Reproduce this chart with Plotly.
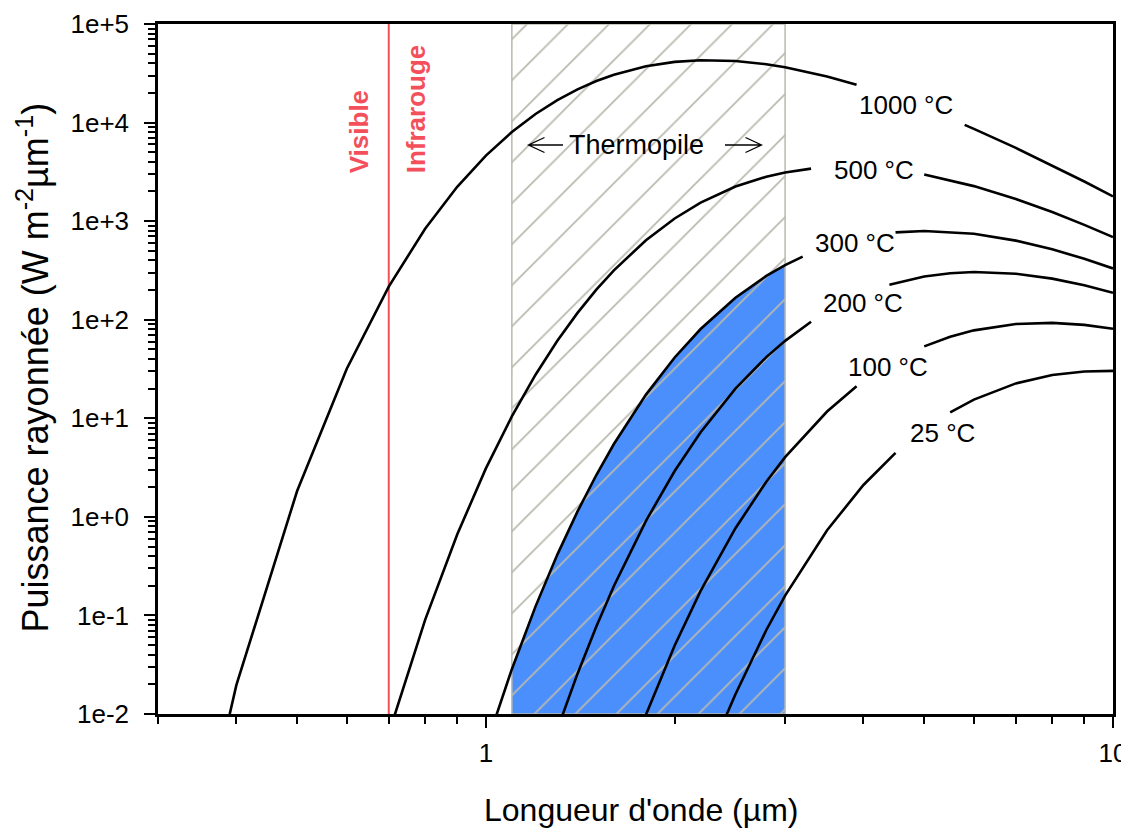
import math
import plotly.graph_objects as go

# ---------------- data ----------------
# Spectral radiant exitance (W m^-2 um^-1) vs wavelength (um); None = break under label
WL_1000 = [0.3, 0.4, 0.5, 0.6, 0.7, 0.8, 0.9, 1.0, 1.1, 1.2, 1.3, 1.4, 1.5, 1.6, 1.8, 2.0, 2.2, 2.4, 2.5, 2.8, 3.0, 3.5, 3.9,
           None, 5.8, 6.0, 7.0, 8.0, 9.0, 10.0]
E_1000 = [6.72e-6, 0.0196, 1.83, 31.8, 217, 837, 2231, 4625, 8024, 12225, 16907, 21722, 26356, 30577, 37230, 41256, 42919,
          42751, 42164, 39101, 36444, 29376, 24211, None, 9474, 8629, 5531, 3676, 2524, 1785]

WL_500 = [0.7, 0.8, 0.9, 1.0, 1.1, 1.2, 1.3, 1.4, 1.5, 1.6, 1.8, 2.0, 2.2, 2.5, 2.8, 3.0, 3.3,
          None, 5.0, 6.0, 7.0, 8.0, 9.0, 10.0]
E_500 = [6.33e-3, 0.0901, 0.663, 3.10, 10.44, 27.67, 61.13, 117.3, 201.6, 317.0, 640.6, 1063.8, 1539, 2243, 2827, 3121, 3411,
         None, 2968, 2266, 1677, 1236, 917.4, 689.1]

WL_300 = [1.0, 1.1, 1.2, 1.3, 1.4, 1.5, 1.6, 1.8, 2.0, 2.2, 2.5, 2.8, 3.0, 3.2,
          None, 4.5, 5.0, 6.0, 7.0, 8.0, 9.0, 10.0]
E_300 = [4.69e-3, 0.0285, 0.1236, 0.4141, 1.136, 2.658, 5.479, 17.38, 41.39, 80.44, 166.9, 277.8, 357.7, 437.1,
         None, 769.1, 795.6, 744.7, 634.4, 517.8, 415.0, 330.9]

WL_200 = [1.3, 1.4, 1.5, 1.6, 1.8, 2.0, 2.2, 2.5, 2.8, 3.0, 3.3,
          None, 4.4, 5.0, 5.5, 6.0, 7.0, 8.0, 9.0, 10.0]
E_200 = [6.99e-3, 0.02566, 0.07732, 0.1988, 0.9116, 2.915, 7.211, 19.99, 41.75, 61.00, 95.20,
         None, 226.4, 274.1, 296.4, 304.8, 292.9, 261.0, 223.6, 187.8]

WL_100 = [1.6, 1.8, 2.0, 2.2, 2.5, 2.8, 3.0, 3.5, 3.9,
          None, 5.0, 5.5, 6.0, 7.0, 8.0, 9.0, 10.0]
E_100 = [1.22e-3, 9.855e-3, 0.04956, 0.1776, 0.7677, 2.274, 4.033, 11.70, 21.09,
         None, 53.62, 67.15, 78.01, 90.60, 92.89, 88.57, 80.87]

WL_25 = [2.2, 2.4, 2.5, 2.8, 3.0, 3.5, 4.0, 4.5,
         None, 5.5, 6.0, 7.0, 8.0, 9.0, 10.0]
E_25 = [2.16e-3, 8.70e-3, 0.01585, 0.07116, 0.1590, 0.7323, 2.105, 4.463,
        None, 11.50, 15.47, 22.59, 27.47, 29.87, 30.25]

CURVE_LABELS = ["1000 °C", "500 °C", "300 °C", "200 °C", "100 °C", "25 °C"]

THERMOPILE_BAND_UM = [1.1, 3.0]
VISIBLE_IR_LIMIT_UM = 0.7

X_RANGE_UM = [0.3, 10]
Y_RANGE = [1e-2, 1e5]
X_TICK_VALUES = [1, 10]
X_TICK_TEXT = ["1", "10"]
Y_TICK_VALUES = [1e-2, 1e-1, 1e0, 1e1, 1e2, 1e3, 1e4, 1e5]
Y_TICK_TEXT = ["1e-2", "1e-1", "1e+0", "1e+1", "1e+2", "1e+3", "1e+4", "1e+5"]

# ---------------- layout helpers ----------------
# page body has an 8px default margin: the figure is drawn 8px right and down
OFF = 8
W_PX, H_PX = 1129 - OFF, 828 - OFF
PL, PT, PR, PB = 158, 24, 1113, 714          # plot area in window pixels
ML, MT = PL - OFF, PT - OFF
MR = W_PX - (PR - OFF)
MB = H_PX - (PB - OFF)
PW, PH = PR - PL, PB - PT
FONT = "Liberation Sans, Arial, Helvetica, sans-serif"
RED = "#F4505C"
BLUE = "#4B8FFC"
HATCH = "#B9B9AE"


def px_x(x):
    return (x - PL) / PW


def px_y(y):
    return (PB - y) / PH


curves = [(WL_1000, E_1000), (WL_500, E_500), (WL_300, E_300),
          (WL_200, E_200), (WL_100, E_100), (WL_25, E_25)]

fig = go.Figure()

# blue area under the 300 °C curve inside the thermopile band
b0, b1 = THERMOPILE_BAND_UM
fx = [x for x, y in zip(WL_300, E_300) if x is not None and b0 <= x <= b1]
fy = [y for x, y in zip(WL_300, E_300) if x is not None and b0 <= x <= b1]
fig.add_trace(go.Scatter(
    x=fx + [fx[-1], fx[0]], y=fy + [Y_RANGE[0], Y_RANGE[0]],
    fill="toself", fillcolor=BLUE, mode="lines", line=dict(width=0, color=BLUE),
    hoverinfo="skip", showlegend=False))

# hatched thermopile band
fig.add_trace(go.Scatter(
    x=[b0, b1, b1, b0, b0], y=[Y_RANGE[0], Y_RANGE[0], Y_RANGE[1], Y_RANGE[1], Y_RANGE[0]],
    fill="toself", fillcolor="rgba(0,0,0,0)",
    fillpattern=dict(shape="/", fgcolor=HATCH, size=29, solidity=0.06,
                     fillmode="overlay", fgopacity=1),
    mode="lines", line=dict(color=HATCH, width=1.5),
    hoverinfo="skip", showlegend=False))

# visible / infrared limit
fig.add_trace(go.Scatter(
    x=[VISIBLE_IR_LIMIT_UM, VISIBLE_IR_LIMIT_UM], y=Y_RANGE, mode="lines",
    line=dict(color=RED, width=2), hoverinfo="skip", showlegend=False))

# blackbody curves
for (wx, wy), name in zip(curves, CURVE_LABELS):
    fig.add_trace(go.Scatter(x=wx, y=wy, mode="lines", name=name, connectgaps=False,
                             line=dict(color="black", width=2.6), showlegend=False))

# ---------------- annotations ----------------
LABEL_PX = {"1000 °C": (906, 105), "500 °C": (874, 170), "300 °C": (855, 243),
            "200 °C": (863, 303), "100 °C": (888, 367), "25 °C": (942, 433)}
ann = []
for name in CURVE_LABELS:
    lx, ly = LABEL_PX[name]
    ann.append(dict(x=px_x(lx), y=px_y(ly), xref="paper", yref="paper", text=name,
                    showarrow=False, xanchor="center", yanchor="middle",
                    font=dict(family=FONT, size=26, color="black")))

ann.append(dict(x=px_x(636.5), y=px_y(145), xref="paper", yref="paper", text="Thermopile",
                showarrow=False, xanchor="center", yanchor="middle",
                font=dict(family=FONT, size=27, color="black")))

vis_x = math.log10(VISIBLE_IR_LIMIT_UM)
ann.append(dict(x=vis_x, xref="x", y=px_y(175), yref="paper", text="<b>Visible</b>",
                textangle=-90, showarrow=False, xanchor="center", yanchor="bottom", xshift=-30,
                font=dict(family=FONT, size=26, color=RED)))
ann.append(dict(x=vis_x, xref="x", y=px_y(175), yref="paper", text="<b>Infrarouge</b>",
                textangle=-90, showarrow=False, xanchor="center", yanchor="bottom", xshift=27,
                font=dict(family=FONT, size=26, color=RED)))

ann.append(dict(x=px_x(641), y=px_y(810), xref="paper", yref="paper",
                text="Longueur d'onde (µm)", showarrow=False, xanchor="center", yanchor="middle",
                font=dict(family=FONT, size=32, color="black")))
ann.append(dict(x=px_x(32), y=px_y(367.5), xref="paper", yref="paper",
                text="Puissance rayonnée (W m<sup>-2</sup>µm<sup>-1</sup>)", textangle=-90,
                showarrow=False, xanchor="center", yanchor="middle",
                font=dict(family=FONT, size=36, color="black")))


def arrow_path(tail, tip, back, half):
    (tx, ty), (hx, hy) = tail, tip
    d = 1 if hx > tx else -1
    s = "M%.5f,%.5f L%.5f,%.5f " % (px_x(tx), px_y(ty), px_x(hx), px_y(hy))
    s += "M%.5f,%.5f L%.5f,%.5f L%.5f,%.5f" % (
        px_x(hx - d * back), px_y(hy - half), px_x(hx), px_y(hy), px_x(hx - d * back), px_y(hy + half))
    return s


shapes = [
    dict(type="path", xref="paper", yref="paper", path=arrow_path((563, 145), (528.5, 145), 16, 7.5),
         line=dict(color="black", width=1.3)),
    dict(type="path", xref="paper", yref="paper", path=arrow_path((725, 145), (761.5, 145), 16, 7.5),
         line=dict(color="black", width=1.3)),
]

axis_common = dict(
    type="log", showgrid=False, zeroline=False, showline=True, linewidth=2.5, linecolor="black",
    mirror=True, ticks="outside", ticklen=11, tickwidth=2, tickcolor="black", automargin=False,
    tickfont=dict(family=FONT, size=26, color="black"),
    minor=dict(ticks="outside", ticklen=7, tickwidth=2, tickcolor="black", dtick="D1", showgrid=False),
)

fig.update_layout(
    width=W_PX, height=H_PX,
    margin=dict(l=ML, r=MR, t=MT, b=MB, pad=0, autoexpand=False),
    paper_bgcolor="white", plot_bgcolor="white",
    font=dict(family=FONT, color="black"),
    showlegend=False,
    annotations=ann,
    shapes=shapes,
    xaxis=dict(axis_common, range=[math.log10(X_RANGE_UM[0]), math.log10(X_RANGE_UM[1])],
               tickmode="array", tickvals=X_TICK_VALUES, ticktext=X_TICK_TEXT, ticklabelstandoff=3),
    yaxis=dict(axis_common, range=[math.log10(Y_RANGE[0]), math.log10(Y_RANGE[1])],
               tickmode="array", tickvals=Y_TICK_VALUES, ticktext=Y_TICK_TEXT, ticklabelstandoff=10),
)

fig.write_html("out.html")
